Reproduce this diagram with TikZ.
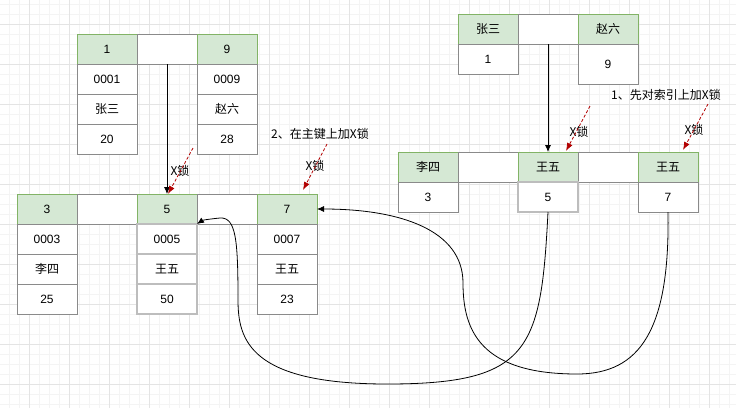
\documentclass[tikz,border=0pt]{standalone}
\usepackage{fontspec}
\setmainfont{Liberation Sans}
\newfontfamily\cjk{Noto Sans CJK SC}
\usepackage{tikz}
\usetikzlibrary{positioning,arrows.meta}

\definecolor{keyfill}{HTML}{D5E8D4}
\definecolor{keyline}{HTML}{82B366}
\definecolor{cellline}{HTML}{8A8A8A}
\definecolor{pickline}{HTML}{BDBDBD}
\definecolor{lockred}{HTML}{B20000}
\definecolor{gridmajor}{HTML}{E4E4E4}
\definecolor{gridminor}{HTML}{F4F4F4}

\tikzset{
  cell/.style={draw=cellline, fill=white, line width=0.8pt, minimum width=60pt,
    minimum height=30pt, inner sep=0pt, outer sep=0pt, font=\fontsize{12}{14}\selectfont},
  keycell/.style={cell, draw=keyline, fill=keyfill},
  pickcell/.style={cell, draw=pickline, line width=1.2pt},
  lock/.style={draw=lockred, line width=0.8pt, dash pattern=on 3pt off 2pt,
    -{Latex[length=8pt,width=6pt]}},
  lbl/.style={font=\cjk\fontsize{12}{14}\selectfont, inner sep=0pt},
  link/.style={line width=0.8pt, -{Latex[length=7pt,width=6pt]}},
}

\begin{document}
\begin{tikzpicture}[x=1pt, y=-1pt]
    \useasboundingbox (0,0) rectangle (736,408);
    \fill[white] (0,0) rectangle (736,408);
    % grid
    \foreach \x in {9,19,...,729} \draw[gridminor, line width=0.6pt] (\x,0) -- (\x,408);
    \foreach \y in {4,14,...,404} \draw[gridminor, line width=0.6pt] (0,\y) -- (736,\y);
    \foreach \x in {29,69,...,709} \draw[gridmajor, line width=0.8pt] (\x,0) -- (\x,408);
    \foreach \y in {24,64,...,384} \draw[gridmajor, line width=0.8pt] (0,\y) -- (736,\y);

    % primary key root
    \node(r1) [keycell] at (107,49) {1};
    \node(rg) [cell, right=0pt of r1] {};
    \node(r9) [keycell, right=0pt of rg] {9};
    \node(r1a) [cell, below=0pt of r1] {0001};
    \node(r1b) [cell, below=0pt of r1a] {\cjk 张三};
    \node(r1c) [cell, below=0pt of r1b] {20};
    \node(r9a) [cell, below=0pt of r9] {0009};
    \node(r9b) [cell, below=0pt of r9a] {\cjk 赵六};
    \node(r9c) [cell, below=0pt of r9b] {28};

    % primary key leaf
    \node(l3) [keycell] at (47,209) {3};
    \node(lg1) [cell, right=0pt of l3] {};
    \node(l5) [keycell, right=0pt of lg1] {5};
    \node(lg2) [cell, right=0pt of l5] {};
    \node(l7) [keycell, right=0pt of lg2] {7};
    \node(l3a) [cell, below=0pt of l3] {0003};
    \node(l3b) [cell, below=0pt of l3a] {\cjk 李四};
    \node(l3c) [cell, below=0pt of l3b] {25};
    \node(l5a) [pickcell, below=0pt of l5] {0005};
    \node(l5b) [pickcell, below=0pt of l5a] {\cjk 王五};
    \node(l5c) [pickcell, below=0pt of l5b] {50};
    \node(l7a) [cell, below=0pt of l7] {0007};
    \node(l7b) [cell, below=0pt of l7a] {\cjk 王五};
    \node(l7c) [cell, below=0pt of l7b] {23};

    % name index root
    \node(s1) [keycell] at (488,29) {\cjk 张三};
    \node(sg) [cell, right=0pt of s1] {};
    \node(s9) [keycell, right=0pt of sg] {\cjk 赵六};
    \node(s1a) [cell, below=0pt of s1] {1};
    \node(s9a) [cell, minimum height=40pt, below=0pt of s9] {9};

    % name index leaf
    \node(t3) [keycell] at (428,167) {\cjk 李四};
    \node(tg1) [cell, right=0pt of t3] {};
    \node(t5) [keycell, right=0pt of tg1] {\cjk 王五};
    \node(tg2) [cell, right=0pt of t5] {};
    \node(t7) [keycell, right=0pt of tg2] {\cjk 王五};
    \node(t3a) [cell, below=0pt of t3] {3};
    \node(t5a) [pickcell, below=0pt of t5] {5};
    \node(t7a) [cell, below=0pt of t7] {7};

    \draw[link](rg.south) -- (l5.north);
    \draw[link](sg.south) -- (t5.north);

    % locks
    \node(n1) [lbl] at (666,95) {1、先对索引上加X锁};
    \node(n2) [lbl] at (320,134) {2、在主键上加X锁};
    \node(x1) [lbl] at (180,171) {X锁};
    \node(x2) [lbl] at (315,166) {X锁};
    \node(x3) [lbl] at (579,132) {X锁};
    \node(x4) [lbl] at (694,130) {X锁};
    \coordinate(k1) at (193,148);
    \coordinate(k1e) at (168,194);
    \coordinate(k2) at (327,144);
    \coordinate(k2e) at (303,190);
    \coordinate(k3) at (590,106);
    \coordinate(k3e) at (566,151);
    \coordinate(k4) at (708,104);
    \coordinate(k4e) at (683,150);
    \draw[lock](k1) -- (k1e);
    \draw[lock](k2) -- (k2e);
    \draw[lock](k3) -- (k3e);
    \draw[lock](k4) -- (k4e);

    % back to the primary key
    \draw[link](t5a.south) .. controls (541,350) and (530,384) .. (387,384)
        .. controls (250,384) and (238,340) .. (238,300)
        .. controls (238,240) and (236,217) .. (220,218)
        .. controls (210,219) and (203,220) .. (l5.south east);
    \draw[link](t7a.south) .. controls (670,330) and (640,374) .. (577,374)
        .. controls (480,374) and (463,330) .. (463,283)
        .. controls (463,230) and (400,209) .. (l7.east);
\end{tikzpicture}
\end{document}
